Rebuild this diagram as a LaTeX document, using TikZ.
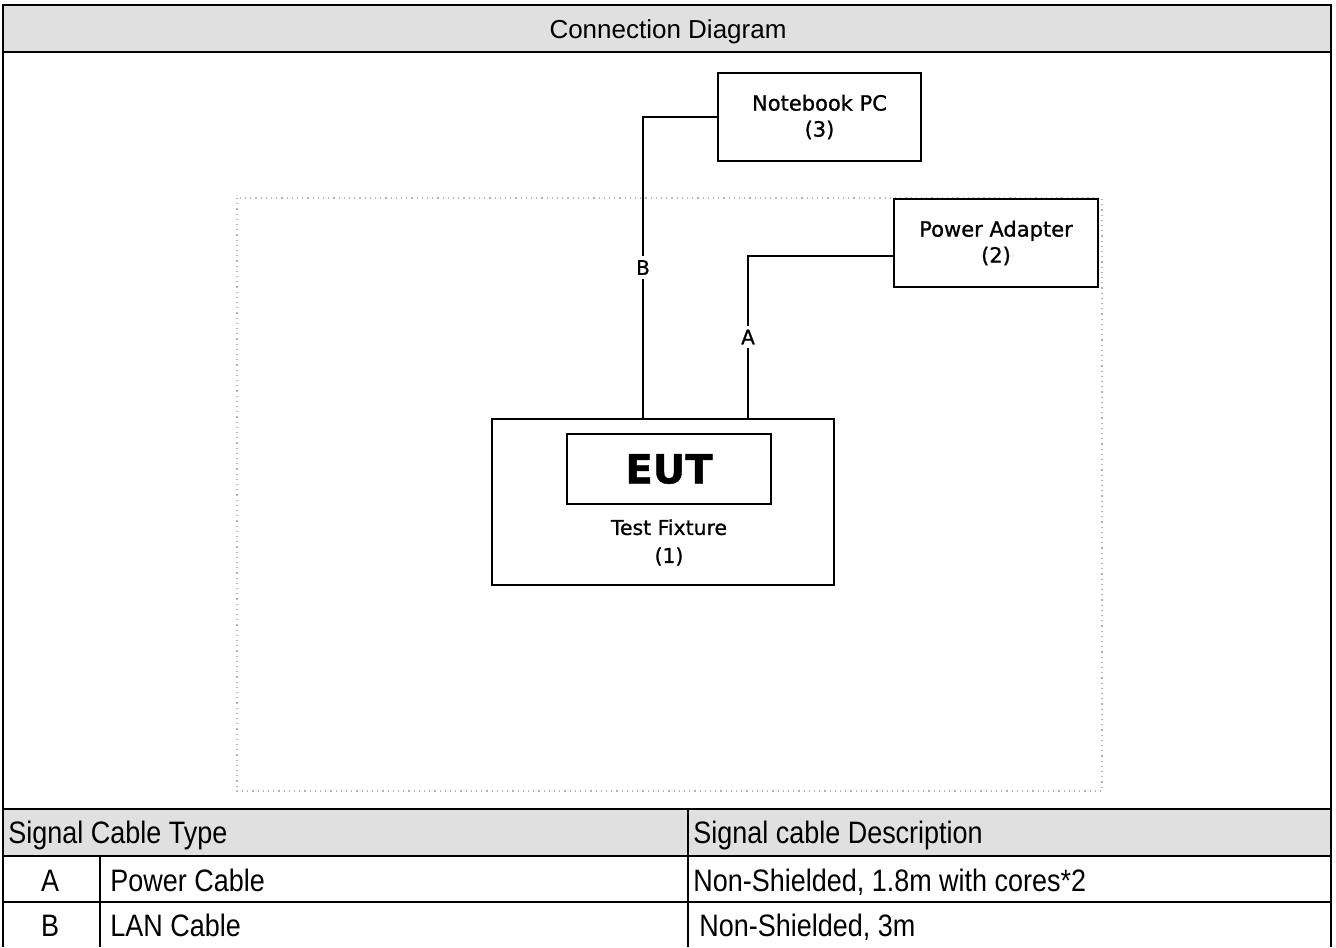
\documentclass[tikz,border=0pt]{standalone}
\usepackage{fontspec}
\setmainfont{Liberation Sans}
\newfontfamily\tabfont[FakeStretch=0.87]{Liberation Sans}
\newfontfamily\boxfont[FakeBold=1]{DejaVu Sans}
\usetikzlibrary{positioning}
\definecolor{hdrgray}{HTML}{E0E0E0}

\begin{document}
\begin{tikzpicture}[x=0.5pt,y=-0.5pt,
	unit/.style={draw,line width=1pt,align=center,inner sep=0pt,
	font=\boxfont\fontsize{10.5}{13}\selectfont},
	cable/.style={line width=1pt},
	tag/.style={fill=white,inner sep=2pt,font=\boxfont\fontsize{10}{11}\selectfont},
	cell/.style={anchor=base west,inner sep=0pt,font=\tabfont\fontsize{15.5}{18}\selectfont}]
\useasboundingbox (0,0) rectangle (1336,947);
% frame and table
\fill[hdrgray] (3,5.5) rectangle (1331,52);
\fill[hdrgray] (3,809) rectangle (1331,856);
\draw[line width=1pt] (3,947) -- (3,5.5) -- (1331,5.5) -- (1331,947);
\draw[line width=1pt] (3,52) -- (1331,52);
\draw[line width=1pt] (3,809) -- (1331,809);
\draw[line width=1pt] (3,856) -- (1331,856);
\draw[line width=1pt] (3,902) -- (1331,902);
\draw[line width=1pt] (100,856) -- (100,947);
\draw[line width=1pt] (688,809) -- (688,947);
\node[anchor=base,inner sep=0pt,font=\fontsize{13}{15}\selectfont] (title) at (668,39) {Connection Diagram};
\node[cell] (typehd) at (8,843) {Signal Cable Type};
\node[cell] (deschd) at (693,843) {Signal cable Description};
\node[cell,anchor=base] (ida) at (50,891) {A};
\node[cell] (typea) at (110,891) {Power Cable};
\node[cell] (desca) at (693,891) {Non-Shielded, 1.8m with cores*2};
\node[cell,anchor=base] (idb) at (50,936) {B};
\node[cell] (typeb) at (110,936) {LAN Cable};
\node[cell] (descb) at (699,936) {Non-Shielded, 3m};
% test area
\draw[gray!60,dotted,line width=0.6pt] (237,198) rectangle (1102,791);
\node[unit,minimum width=101.5pt,minimum height=44pt] (nb) at (819.5,117) {Notebook PC\\(3)};
\node[unit,minimum width=102pt,minimum height=44pt] (pa) at (996,243) {Power Adapter\\(2)};
\node[unit,minimum width=171pt,minimum height=83pt] (tf) at (663,502) {};
\node[unit,minimum width=102pt,minimum height=35pt,
	font=\boxfont\bfseries\fontsize{20}{24}\selectfont] (eut) at (669,469) {EUT};
\node[below=7pt of eut,align=center,inner sep=0pt,
	font=\boxfont\fontsize{10.2}{14}\selectfont] (tfname) {Test Fixture\\(1)};
\draw[cable] ([xshift=-10pt]tf.north) |- node[tag,pos=0.25] {B} (nb.west);
\draw[cable] ([xshift=42.5pt]tf.north) |- node[tag,pos=0.25] {A} ([yshift=-6.5pt]pa.west);
\end{tikzpicture}
\end{document}
